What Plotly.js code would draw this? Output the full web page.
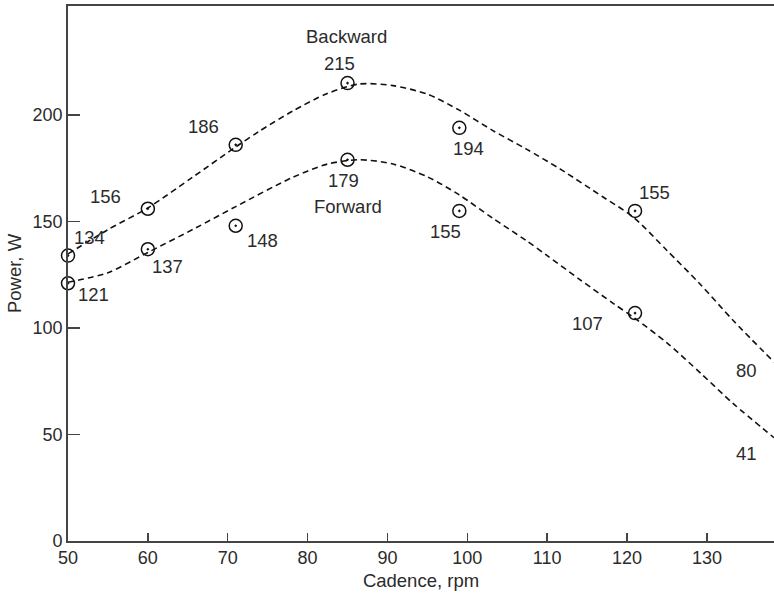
<!DOCTYPE html>
<html>
<head>
<meta charset="utf-8">
<script src="https://cdn.plot.ly/plotly-3.0.1.min.js"></script>
<style>
  html, body { margin: 0; padding: 0; background: #fff; }
  #chart { width: 774px; height: 593px; }
</style>
</head>
<body>
<div id="chart"></div>
<script>
// Measured points (cadence, rpm -> power, W)
const cadence = [50, 60, 71, 85, 99, 121];
const backwardPower = [134, 156, 186, 215, 194, 155];
const forwardPower = [121, 137, 148, 179, 155, 107];

// Fitted dashed curves
const backwardCurveX = [50, 55, 60, 65.6, 71, 74, 78.2, 82.4, 86.5, 90.7, 95, 99, 103.2, 107.4, 111.6, 117, 120.8, 125, 129.1, 133.3, 138.4];
const backwardCurveY = [134.8, 146.2, 156.4, 170.8, 185, 192.5, 202, 210, 214.6, 213.8, 209.8, 202.3, 192.7, 184, 174.7, 161.5, 152, 136.4, 120.8, 103.5, 84];
const forwardCurveX = [50, 55, 60, 66, 71, 78, 82.5, 86.5, 90.7, 95, 99, 103.2, 107.4, 110, 114, 118.3, 121, 125, 129.3, 133.3, 138.4];
const forwardCurveY = [121.5, 126, 135.5, 147, 157, 170.5, 177, 179, 177, 171, 162.5, 151.5, 141, 134, 123, 111.5, 104.5, 93, 78.5, 64.5, 48.5];

// End-of-curve values
const endValues = [80, 41];
const seriesNames = ['Backward', 'Forward'];

const xTicks = [50, 60, 70, 80, 90, 100, 110, 120, 130];
const yTicks = [0, 50, 100, 150, 200];

const textColor = '#2b2b2b';
const axisColor = '#444444';
const fontFamily = 'Liberation Sans, Arial, sans-serif';

const curveStyle = { color: '#111', width: 1.6, dash: '6px,4px', shape: 'spline', smoothing: 0.8 };
const markerStyle = { symbol: 'circle-open-dot', size: 13, color: '#111', line: { color: '#111', width: 1.5 } };

const traces = [
  { x: backwardCurveX, y: backwardCurveY, mode: 'lines', line: curveStyle, hoverinfo: 'skip', showlegend: false },
  { x: forwardCurveX, y: forwardCurveY, mode: 'lines', line: curveStyle, hoverinfo: 'skip', showlegend: false },
  { x: cadence, y: backwardPower, mode: 'markers', marker: markerStyle, name: seriesNames[0], showlegend: false, cliponaxis: false },
  { x: cadence, y: forwardPower, mode: 'markers', marker: markerStyle, name: seriesNames[1], showlegend: false, cliponaxis: false }
];

// Label offsets (pixels) relative to each point
const backOffsets = [[21, 18], [-42, 12], [-32, 18], [-8, 20], [9, -21], [19, 18]];
const forOffsets = [[25, -11], [20, -17], [27, -15], [-4, -21], [-14, -21], [-48, -10]];

const labelFont = { family: fontFamily, size: 18.5, color: textColor };
const tickFont = { family: fontFamily, size: 18, color: textColor };
const annotations = [];
cadence.forEach((c, i) => {
  annotations.push({ x: c, y: backwardPower[i], text: String(backwardPower[i]), showarrow: false,
    xshift: backOffsets[i][0], yshift: backOffsets[i][1], font: labelFont });
  annotations.push({ x: c, y: forwardPower[i], text: String(forwardPower[i]), showarrow: false,
    xshift: forOffsets[i][0], yshift: forOffsets[i][1], font: labelFont });
});
annotations.push({ x: cadence[3], y: backwardPower[3], text: seriesNames[0], showarrow: false, xshift: -1, yshift: 47, font: labelFont });
annotations.push({ x: cadence[3], y: forwardPower[3], text: seriesNames[1], showarrow: false, xshift: 0, yshift: -47, font: labelFont });
endValues.forEach(v => {
  annotations.push({ x: 134.9, y: v, text: String(v), showarrow: false, font: labelFont });
});

const layout = {
  width: 774, height: 593,
  margin: { l: 68, r: 0, t: 6, b: 52, pad: 0 },
  paper_bgcolor: '#fff', plot_bgcolor: '#fff',
  font: { family: fontFamily, size: 18, color: textColor },
  showlegend: false,
  xaxis: {
    range: [50, 138.4], tickvals: xTicks, ticktext: xTicks.map(String),
    ticks: 'inside', ticklen: 8, tickwidth: 1.5, tickcolor: axisColor,
    showline: true, linecolor: axisColor, linewidth: 1.8, mirror: true,
    showgrid: false, zeroline: false,
    tickfont: tickFont,
    title: { text: 'Cadence, rpm', font: labelFont, standoff: 7 }
  },
  yaxis: {
    range: [0, 251.2], tickvals: yTicks, ticktext: yTicks.map(String),
    ticks: 'inside', ticklen: 12, tickwidth: 1.5, tickcolor: axisColor,
    showline: true, linecolor: axisColor, linewidth: 1.8, mirror: false,
    showgrid: false, zeroline: false,
    tickfont: tickFont,
    title: { text: 'Power, W', font: labelFont, standoff: 6 }
  },
  annotations: annotations
};

Plotly.newPlot('chart', traces, layout, { staticPlot: true, displayModeBar: false });
</script>
</body>
</html>
